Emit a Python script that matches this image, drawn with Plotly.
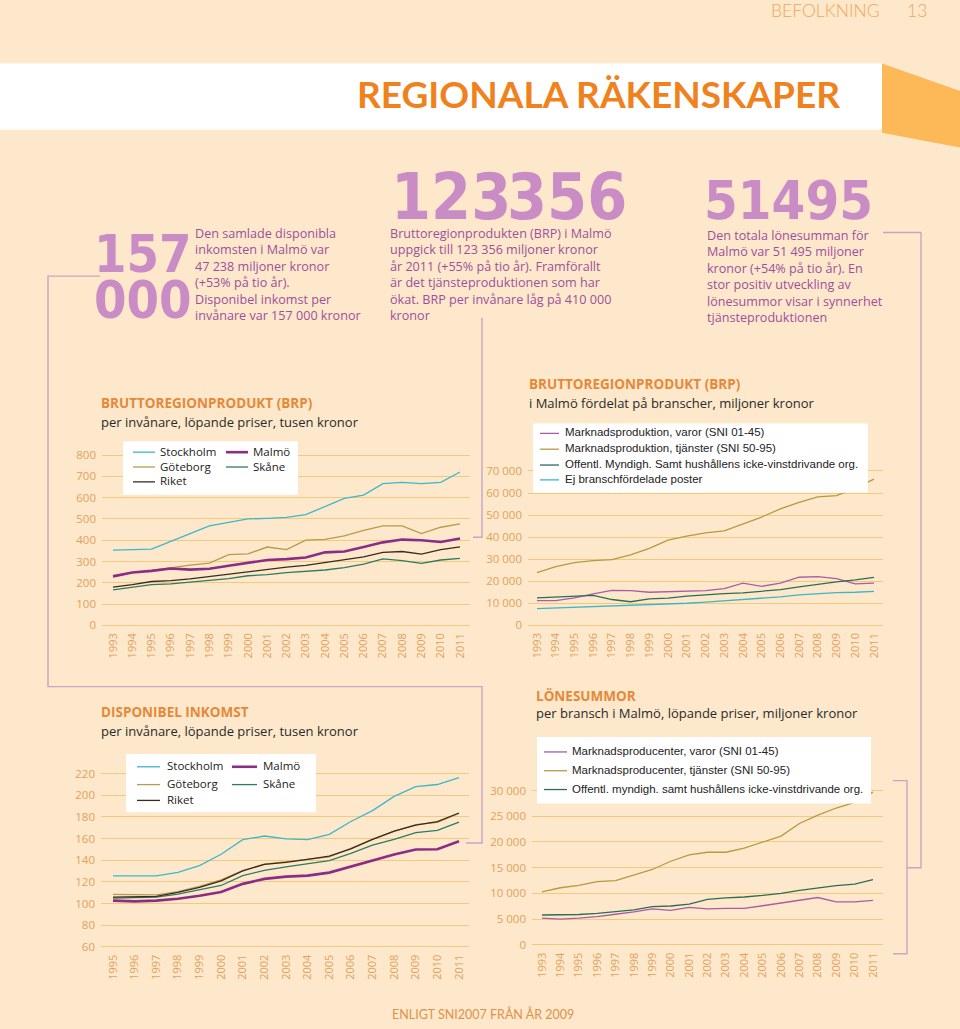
import plotly.graph_objects as go

W, H = 960, 1029
BG = "#FDE8CB"
ORANGE_T = "#E2A05C"
TITLE_OR = "#E6883A"
GRID = "#F3C97F"
PURPLE_TXT = "#9E4F9C"
BIG = "#C98CC5"
CONNECT = "#C6A6C4"

# ---------------- data ----------------
years_93 = ["1993", "1994", "1995", "1996", "1997", "1998", "1999", "2000", "2001", "2002",
            "2003", "2004", "2005", "2006", "2007", "2008", "2009", "2010", "2011"]
years_95 = ["1995", "1996", "1997", "1998", "1999", "2000", "2001", "2002",
            "2003", "2004", "2005", "2006", "2007", "2008", "2009", "2010", "2011"]

# Chart 1: BRP per invånare (tusen kr)
brp_stockholm = [353, 355, 358, 395, 430, 467, 484, 500, 503, 507, 520, 558, 597, 612, 666, 672, 666, 672, 721]
brp_goteborg = [233, 248, 258, 271, 283, 292, 332, 336, 368, 356, 400, 404, 420, 446, 467, 467, 431, 461, 477]
brp_malmo = [230, 248, 256, 267, 262, 266, 280, 292, 307, 311, 319, 343, 347, 368, 390, 403, 400, 392, 408]
brp_riket = [180, 191, 206, 210, 218, 229, 242, 254, 264, 274, 282, 295, 307, 322, 343, 347, 335, 356, 369]
brp_skane = [167, 180, 191, 195, 203, 211, 219, 233, 238, 248, 253, 260, 271, 288, 312, 304, 291, 307, 315]
brp_ticks = [0, 100, 200, 300, 400, 500, 600, 700, 800]
brp_ticktext = ["0", "100", "200", "300", "400", "500", "600", "700", "800"]

# Chart 2: BRP per bransch i Malmö (mkr)
br_varor = [11200, 11200, 12400, 14300, 15800, 15700, 15000, 15300, 15600, 15700, 16600, 19100, 17700, 19100, 21800, 22100, 21200, 18800, 19100]
br_tjanster = [23900, 26600, 28400, 29300, 29800, 31900, 34900, 38600, 40400, 41900, 42800, 45800, 49100, 52800, 55800, 58300, 58800, 62200, 66300]
br_offentl = [12400, 12700, 13100, 13600, 11700, 10700, 12000, 12300, 13200, 13900, 14400, 14700, 15300, 16200, 17400, 18600, 19700, 20600, 21700]
br_ej = [7600, 7900, 8100, 8400, 8500, 8800, 9400, 9700, 10000, 10500, 11100, 11700, 12100, 12900, 13800, 14400, 14800, 15000, 15400]
br_ticks = [0, 10000, 20000, 30000, 40000, 50000, 60000, 70000]
br_ticktext = ["0", "10 000", "20 000", "30 000", "40 000", "50 000", "60 000", "70 000"]

# Chart 3: Disponibel inkomst per invånare (tusen kr)
di_stockholm = [125.5, 125.5, 125.5, 128.9, 135.0, 145.6, 159.0, 162.4, 159.7, 159.0, 164.0, 175.8, 185.9, 199.0, 208.0, 210.0, 216.3]
di_goteborg = [108.5, 108.5, 108.0, 111.0, 115.8, 121.9, 130.4, 136.5, 138.6, 140.8, 143.2, 151.1, 159.4, 166.7, 173.0, 175.0, 183.4]
di_riket = [106.0, 106.6, 106.6, 110.3, 114.9, 121.0, 130.1, 136.2, 138.0, 140.8, 143.8, 150.5, 159.4, 167.0, 172.5, 175.8, 183.7]
di_skane = [105.1, 105.7, 106.0, 108.8, 112.7, 116.7, 125.8, 130.7, 133.8, 136.5, 139.6, 146.3, 153.9, 159.4, 165.5, 167.6, 175.2]
di_malmo = [102.7, 102.0, 102.7, 104.5, 107.2, 110.6, 118.2, 122.8, 124.9, 125.8, 128.6, 134.1, 140.2, 145.3, 149.9, 150.2, 157.5]
di_ticks = [60, 80, 100, 120, 140, 160, 180, 200, 220]
di_ticktext = ["60", "80", "100", "120", "140", "160", "180", "200", "220"]

# Chart 4: Lönesummor per bransch i Malmö (mkr)
lo_varor = [5200, 5000, 5200, 5500, 5950, 6400, 7000, 6700, 7300, 7000, 7100, 7100, 7600, 8100, 8650, 9200, 8350, 8350, 8650]
lo_tjanster = [10300, 11100, 11550, 12300, 12500, 13550, 14650, 16250, 17500, 18000, 18000, 18800, 19950, 21150, 23600, 25200, 26600, 27700, 29700]
lo_offentl = [5800, 5800, 5900, 6100, 6400, 6800, 7450, 7550, 7900, 8850, 9150, 9300, 9600, 10000, 10600, 11050, 11500, 11800, 12700]
lo_ticks = [0, 5000, 10000, 15000, 20000, 25000, 30000]
lo_ticktext = ["0", "5 000", "10 000", "15 000", "20 000", "25 000", "30 000"]

names_region = ["Stockholm", "Göteborg", "Riket", "Malmö", "Skåne"]
col_region = {"Stockholm": "#3DB7C9", "Göteborg": "#B49C4C", "Riket": "#3A2A1F",
              "Malmö": "#8B2D87", "Skåne": "#2E7B63"}
wid_region = {"Stockholm": 1.3, "Göteborg": 1.3, "Riket": 1.3, "Malmö": 2.6, "Skåne": 1.3}

names_brp = ["Marknadsproduktion, varor (SNI 01-45)", "Marknadsproduktion, tjänster (SNI 50-95)",
             "Offentl. Myndigh. Samt hushållens icke-vinstdrivande org.", "Ej branschfördelade poster"]
names_lon = ["Marknadsproducenter, varor (SNI 01-45)", "Marknadsproducenter, tjänster (SNI 50-95)",
             "Offentl. myndigh. samt hushållens icke-vinstdrivande org."]
col_br = ["#A85DA6", "#B49B42", "#2F6C56", "#3DB6C6"]


# ---------------- helpers ----------------
def X(p):
    return p / W


def Y(p):
    return 1 - p / H


def dom_x(p_first, p_last, n_int, left, right):
    step = (p_last - p_first) / n_int
    return [left / W, right / W], [-(p_first - left) / step, n_int + (right - p_last) / step]


def dom_y(v_lo, p_lo, v_hi, p_hi, r_lo, r_hi):
    s = (p_lo - p_hi) / (v_hi - v_lo)
    pb = p_lo + (v_lo - r_lo) * s
    pt = p_lo - (r_hi - v_lo) * s
    return [1 - pb / H, 1 - pt / H], [r_lo, r_hi]


fig = go.Figure()
shapes = []
anns = []

TXT_FONT = "Open Sans, Noto Sans, sans-serif"
ARIAL = "Liberation Sans, Arial, sans-serif"
BIGF = "DejaVu Sans Condensed, DejaVu Sans, sans-serif"


def add_ann(x, y, text, size, color, family=TXT_FONT, xanchor="left", yanchor="middle", weight="normal",
            align="left"):
    anns.append(dict(xref="paper", yref="paper", x=X(x), y=Y(y), text=text, showarrow=False,
                     xanchor=xanchor, yanchor=yanchor, align=align,
                     font=dict(size=size, color=color, family=family, weight=weight)))


def legend_entry(x0, x1, y, tx, color, width, name, size=12, family=TXT_FONT):
    shapes.append(dict(type="line", xref="paper", yref="paper", x0=X(x0), x1=X(x1), y0=Y(y), y1=Y(y),
                       line=dict(color=color, width=width), layer="above"))
    add_ann(tx, y - 1, name, size, "#222222", family=family)


def box(x0, y0, x1, y1):
    shapes.append(dict(type="rect", xref="paper", yref="paper", x0=X(x0), x1=X(x1), y0=Y(y1), y1=Y(y0),
                       fillcolor="white", line=dict(width=0), layer="above"))


def polyline(pts):
    path = "M " + " L ".join(f"{X(a):.5f},{Y(b):.5f}" for a, b in pts)
    shapes.append(dict(type="path", xref="paper", yref="paper", path=path,
                       line=dict(color=CONNECT, width=1.4), layer="below"))


# ---------------- traces ----------------
c1 = {"Stockholm": brp_stockholm, "Göteborg": brp_goteborg, "Riket": brp_riket, "Malmö": brp_malmo, "Skåne": brp_skane}
for n in ["Stockholm", "Göteborg", "Riket", "Skåne", "Malmö"]:
    fig.add_trace(go.Scatter(x=years_93, y=c1[n], mode="lines", name=n, xaxis="x", yaxis="y",
                             line=dict(color=col_region[n], width=wid_region[n]), showlegend=False))

for n, vals, c in zip(names_brp, [br_varor, br_tjanster, br_offentl, br_ej], col_br):
    fig.add_trace(go.Scatter(x=years_93, y=vals, mode="lines", name=n, xaxis="x2", yaxis="y2",
                             line=dict(color=c, width=1.3), showlegend=False))

c3 = {"Stockholm": di_stockholm, "Göteborg": di_goteborg, "Riket": di_riket, "Malmö": di_malmo, "Skåne": di_skane}
for n in ["Stockholm", "Göteborg", "Skåne", "Riket", "Malmö"]:
    fig.add_trace(go.Scatter(x=years_95, y=c3[n], mode="lines", name=n, xaxis="x3", yaxis="y3",
                             line=dict(color=col_region[n], width=wid_region[n]), showlegend=False))

for n, vals, c in zip(names_lon, [lo_varor, lo_tjanster, lo_offentl], col_br[:3]):
    fig.add_trace(go.Scatter(x=years_93, y=vals, mode="lines", name=n, xaxis="x4", yaxis="y4",
                             line=dict(color=c, width=1.3), showlegend=False))

# ---------------- axes ----------------
tickf_y = dict(size=11.5, color=ORANGE_T, family=TXT_FONT)
tickf_x = dict(size=11, color=ORANGE_T, family=TXT_FONT)


def xaxis(dom, rng, anchor):
    return dict(domain=dom, range=rng, type="category", anchor=anchor, showgrid=False, zeroline=False,
                showline=False, ticks="", tickangle=-90, tickfont=tickf_x, ticklabelstandoff=3)


def yaxis(dom, rng, anchor, tv, tt):
    return dict(domain=dom, range=rng, anchor=anchor, showgrid=True, gridcolor=GRID, gridwidth=1,
                zeroline=False, showline=False, ticks="", tickvals=tv, ticktext=tt, tickfont=tickf_y,
                ticklabelstandoff=5)


d1x, r1x = dom_x(113, 460, 18, 102, 470)
d1y, r1y = dom_y(0, 626, 800, 454, -8, 812)
d2x, r2x = dom_x(537, 874, 18, 528, 883)
d2y, r2y = dom_y(0, 626, 70000, 470, -700, 70800)
d3x, r3x = dom_x(113, 459, 16, 101, 469)
d3y, r3y = dom_y(60, 951, 220, 776, 58.5, 221.5)
d4x, r4x = dom_x(542, 873, 18, 532, 883)
d4y, r4y = dom_y(0, 949, 30000, 793, -300, 30400)

layout_axes = dict(
    xaxis=xaxis(d1x, r1x, "y"), yaxis=yaxis(d1y, r1y, "x", brp_ticks, brp_ticktext),
    xaxis2=xaxis(d2x, r2x, "y2"), yaxis2=yaxis(d2y, r2y, "x2", br_ticks, br_ticktext),
    xaxis3=xaxis(d3x, r3x, "y3"), yaxis3=yaxis(d3y, r3y, "x3", di_ticks, di_ticktext),
    xaxis4=xaxis(d4x, r4x, "y4"), yaxis4=yaxis(d4y, r4y, "x4", lo_ticks, lo_ticktext),
)

# ---------------- header ----------------
shapes.append(dict(type="rect", xref="paper", yref="paper", x0=0, x1=X(882), y0=Y(125), y1=Y(58),
                   fillcolor="white", line=dict(width=0), layer="below"))
shapes.append(dict(type="path", xref="paper", yref="paper",
                   path=f"M {X(882)},{Y(58)} L {X(960)},{Y(86)} L {X(960)},{Y(143)} L {X(882)},{Y(128)} Z",
                   fillcolor="#FDB857", line=dict(width=0), layer="below"))
add_ann(882, 5, "BEFOLKNING", 17.5, "#F0A65A", family="Lato, Open Sans, sans-serif", xanchor="right",
        weight=300)
add_ann(929, 5, "13", 17.5, "#F0A65A", family="Lato, Open Sans, sans-serif", xanchor="right", weight=300)
add_ann(598, 88, "REGIONALA RÄKENSKAPER", 37, "#F0821E", family="Lato, Open Sans, sans-serif",
        xanchor="center", weight="bold")

# ---------------- key figures ----------------
add_ann(143, 251, "157", 52, BIG, family=BIGF, xanchor="center", weight="bold")
add_ann(143, 297, "000", 52, BIG, family=BIGF, xanchor="center", weight="bold")
add_ann(451, 193, "123", 64, BIG, family=BIGF, xanchor="center", weight="bold")
add_ann(567, 193, "356", 64, BIG, family=BIGF, xanchor="center", weight="bold")
add_ann(788, 197, "51495", 54, BIG, family=BIGF, xanchor="center", weight="bold")

block1 = ("Den samlade disponibla<br>inkomsten i Malmö var<br>47 238 miljoner kronor<br>"
          "(+53% på tio år).<br>Disponibel inkomst per<br>invånare var 157 000 kronor")
block2 = ("Bruttoregionprodukten (BRP) i Malmö<br>uppgick till 123 356 miljoner kronor<br>"
          "år 2011 (+55% på tio år). Framförallt<br>är det tjänsteproduktionen som har<br>"
          "ökat. BRP per invånare låg på 410 000<br>kronor")
block3 = ("Den totala lönesumman för<br>Malmö var 51 495 miljoner<br>kronor (+54% på tio år). En<br>"
          "stor positiv utveckling av<br>lönesummor visar i synnerhet<br>tjänsteproduktionen")
add_ann(193, 219, block1, 12.6, PURPLE_TXT, yanchor="top")
add_ann(388, 219, block2, 12.6, PURPLE_TXT, yanchor="top")
add_ann(705, 221, block3, 12.6, PURPLE_TXT, yanchor="top")

# connectors
polyline([(100, 273), (48, 273), (48, 688), (482, 688), (482, 846), (466, 846)])
polyline([(482, 315), (482, 537), (473, 537)])
polyline([(883, 229), (921, 229), (921, 871), (907, 871)])
polyline([(893, 783), (907, 783), (907, 958), (893, 958)])

# ---------------- chart titles ----------------
TF = "Open Sans, Noto Sans, sans-serif"
add_ann(99, 401, "BRUTTOREGIONPRODUKT (BRP)", 13.5, TITLE_OR, family=TF, weight="bold")
add_ann(99, 420, "per invånare, löpande priser, tusen kronor", 13, "#2A2A2A", family=TF)
add_ann(527, 382, "BRUTTOREGIONPRODUKT (BRP)", 13.5, TITLE_OR, family=TF, weight="bold")
add_ann(527, 401, "i Malmö fördelat på branscher, miljoner kronor", 13, "#2A2A2A", family=TF)
add_ann(99, 714, "DISPONIBEL INKOMST", 13.5, TITLE_OR, family=TF, weight="bold")
add_ann(99, 733, "per invånare, löpande priser, tusen kronor", 13, "#2A2A2A", family=TF)
add_ann(534, 697, "LÖNESUMMOR", 13.5, TITLE_OR, family=TF, weight="bold")
add_ann(534, 715, "per bransch i Malmö, löpande priser, miljoner kronor", 13, "#2A2A2A", family=TF)

# ---------------- legends ----------------
box(123, 440, 298, 494)
legend_entry(133, 155, 451, 158, col_region["Stockholm"], 1.3, names_region[0], 11.5)
legend_entry(133, 155, 466, 158, col_region["Göteborg"], 1.3, names_region[1], 11.5)
legend_entry(133, 155, 481, 158, col_region["Riket"], 1.3, names_region[2], 11.5)
legend_entry(226, 248, 451, 251, col_region["Malmö"], 2.6, names_region[3], 11.5)
legend_entry(226, 248, 466, 251, col_region["Skåne"], 1.3, names_region[4], 11.5)

box(533, 422, 868, 492)
for i, (n, c) in enumerate(zip(names_brp, col_br)):
    legend_entry(540, 559, [432, 448, 464, 479][i], 563, c, 1.3, n, 11.5, ARIAL)

box(126, 756, 316, 815)
legend_entry(137, 160, 769, 165, col_region["Stockholm"], 1.3, names_region[0], 11.5)
legend_entry(137, 160, 787, 165, col_region["Göteborg"], 1.3, names_region[1], 11.5)
legend_entry(137, 160, 803, 165, col_region["Riket"], 1.3, names_region[2], 11.5)
legend_entry(232, 257, 769, 261, col_region["Malmö"], 2.6, names_region[3], 11.5)
legend_entry(232, 257, 787, 261, col_region["Skåne"], 1.3, names_region[4], 11.5)

box(537, 739, 871, 806)
for i, (n, c) in enumerate(zip(names_lon, col_br[:3])):
    legend_entry(544, 567, [754, 773, 792][i], 570, c, 1.3, n, 11.5, ARIAL)

# footer
add_ann(390, 1019, "ENLIGT SNI2007 FRÅN ÅR 2009", 12.5, "#E0914A", family="Lato, Open Sans, sans-serif")

fig.update_layout(width=W, height=H, margin=dict(l=0, r=0, t=0, b=0), paper_bgcolor=BG, plot_bgcolor="rgba(0,0,0,0)",
                  showlegend=False, shapes=shapes, annotations=anns, **layout_axes)

fig.write_html("out.html")
